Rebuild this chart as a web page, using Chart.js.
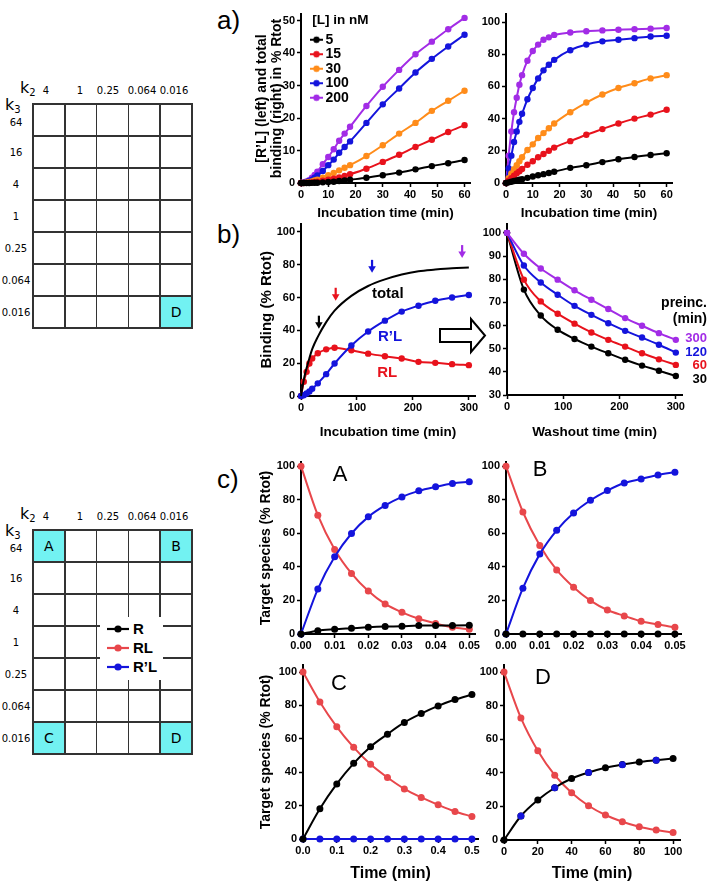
<!DOCTYPE html>
<html>
<head>
<meta charset="utf-8">
<script src="https://cdn.jsdelivr.net/npm/chart.js@4.4.1/dist/chart.umd.min.js"></script>
<style>
  body { margin: 0; background: #fff; }
  #page { position: relative; width: 709px; height: 883px; overflow: hidden; font-family: 'Liberation Sans', Arial, sans-serif; color: #000; }
  canvas { position: absolute; }
  .txt { position: absolute; white-space: nowrap; line-height: 1; }
  .gline { position: absolute; background: #333; }
  .gcell { position: absolute; background: #72f2f2; font-family: 'DejaVu Sans', sans-serif; font-size: 14px; display: flex; align-items: center; justify-content: center; }
  .glbl { position: absolute; font-family: 'DejaVu Sans', sans-serif; font-size: 10px; transform: translate(-50%, -50%); white-space: nowrap; }
  .kname { position: absolute; font-family: 'DejaVu Sans', sans-serif; font-size: 16px; transform: translateY(-50%); }
  .kname sub { font-size: 10px; vertical-align: -3px; }
</style>
</head>
<body>
<div id="page">
  <canvas id="aLeft"></canvas>
  <canvas id="aRight"></canvas>
  <canvas id="bLeft"></canvas>
  <canvas id="bRight"></canvas>
  <canvas id="cA"></canvas>
  <canvas id="cB"></canvas>
  <canvas id="cC"></canvas>
  <canvas id="cD"></canvas>
</div>
<script>
// ---- a) association kinetics at five ligand concentrations ----
const kinTimes = [0, 1, 2, 3, 4, 5, 6, 8, 10, 12, 14, 16, 18, 24, 30, 36, 42, 48, 54, 60];
const ligandConc = ['5', '15', '30', '100', '200'];
// [R'L] (left panel)
const rpl5   = [0, 0, 0, 0.02, 0.05, 0.08, 0.1, 0.2, 0.3, 0.4, 0.6, 0.8, 1.0, 1.6, 2.4, 3.2, 4.2, 5.2, 6.1, 7.1];
const rpl15  = [0, 0, 0.05, 0.1, 0.2, 0.3, 0.4, 0.7, 1.0, 1.3, 1.7, 2.2, 2.7, 4.4, 6.5, 8.7, 11.1, 13.3, 15.7, 17.8];
const rpl30  = [0, 0.05, 0.15, 0.3, 0.5, 0.75, 1.0, 1.6, 2.4, 3.1, 3.9, 4.7, 5.5, 8.3, 11.6, 15.2, 18.5, 22.2, 25.3, 28.4];
const rpl100 = [0, 0.1, 0.3, 0.6, 1.0, 1.6, 2.3, 3.7, 5.5, 7.2, 9.3, 11.1, 12.8, 18.5, 24.2, 29.1, 34, 38.2, 42, 45.6];
const rpl200 = [0, 0.2, 0.5, 0.9, 1.6, 2.5, 3.5, 5.8, 8, 10.4, 13, 15.2, 17.3, 23.7, 29.6, 34.8, 39.6, 43.5, 47.3, 50.8];
// total binding (right panel)
const tot5   = [0, 0.4, 0.8, 1.2, 1.6, 2, 2.4, 3.2, 4, 4.8, 5.5, 6.2, 7, 9.4, 11, 13, 14.8, 16.2, 17.4, 18.5];
const tot15  = [0, 1.5, 3, 4.5, 6, 7.3, 8.7, 11.3, 13.5, 16, 18, 20, 22, 26, 30, 33.5, 37, 40, 42.5, 45.5];
const tot30  = [0, 3, 6, 8.5, 11, 13.5, 16, 20.5, 24, 28, 31, 34, 37, 44, 50, 55, 59, 62, 65, 67];
const tot100 = [0, 9, 17, 25.5, 32, 38, 43, 52, 59, 65, 70, 73.5, 76.5, 82.5, 86, 88, 89, 90, 91, 91.5];
const tot200 = [0, 17, 32, 44, 53, 61, 67, 76, 82, 86, 89, 90.5, 92, 93.5, 94.3, 94.8, 95.2, 95.6, 95.9, 96.3];

// ---- b) incubation then washout ----
const incTimes = [0, 5, 10, 15, 20, 30, 45, 60, 90, 120, 150, 180, 210, 240, 270, 300];
const totalBound = [0, 10, 17, 23, 28.5, 36, 45, 52, 61, 67, 71, 74, 76, 77, 77.8, 78.2];
const rlBound    = [0, 8.7, 14.7, 19.8, 22.8, 26, 28.4, 29.4, 27.8, 25.8, 24.2, 22.8, 20.8, 20.2, 19.4, 18.8];
const rplBound   = [0, 0.5, 1.5, 2.7, 4.4, 7.7, 13.3, 19.8, 30.8, 39.3, 45.9, 51.4, 55, 58, 60, 61.5];
const arrowTimes = [32, 62, 127, 288];
const arrowLevels = [41, 58, 75, 84];
const washTimes = [0, 30, 60, 90, 120, 150, 180, 210, 240, 270, 300];
const preincTimes = ['300', '120', '60', '30'];
const wash300 = [100, 91, 84.6, 79.8, 75.2, 71.1, 67.1, 63.2, 59.9, 56.7, 53.8];
const wash120 = [100, 85.9, 78.6, 73.3, 68.5, 64.6, 61, 57.7, 54.8, 51.7, 48.3];
const wash60  = [100, 79.8, 70.4, 65.1, 60.8, 57, 53.8, 50.9, 48, 45.4, 43];
const wash30  = [100, 75.5, 64.3, 58.2, 54.2, 50.9, 48, 45.2, 42.7, 40.5, 38.2];

// ---- c) simulated species for four k2/k3 corners ----
const timesAB = [0, 0.005, 0.01, 0.015, 0.02, 0.025, 0.03, 0.035, 0.04, 0.045, 0.05];
const timesC  = [0, 0.05, 0.1, 0.15, 0.2, 0.25, 0.3, 0.35, 0.4, 0.45, 0.5];
const timesD  = [0, 10, 20, 30, 40, 50, 60, 70, 80, 90, 100];
const rA   = [0, 2, 2.8, 3.4, 4, 4.4, 4.6, 5, 5, 5.1, 5.2];
const rlA  = [100, 70.8, 50.4, 36.1, 25.6, 17.9, 12.9, 9.1, 6.3, 4, 2.8];
const rplA = [0, 26.8, 46, 59.9, 69.8, 76.6, 81.7, 85.3, 87.7, 89.7, 90.7];
const rB   = [0, 0, 0, 0, 0, 0, 0, 0, 0, 0, 0];
const rlB  = [100, 72.7, 52.8, 38.2, 27.9, 19.9, 14.3, 10.8, 7.6, 5.6, 4];
const rplB = [0, 27.3, 47.6, 61.8, 72.1, 79.7, 85.5, 90, 92.4, 94.8, 96.4];
const rC   = [0, 18.1, 33, 45.3, 55.3, 62.8, 69.8, 75.1, 79.7, 83.5, 86.5];
const rlC  = [100, 82.1, 67.2, 54.9, 44.7, 36.8, 30, 24.9, 20.5, 16.5, 13.5];
const rplC = [0, 0, 0, 0, 0, 0, 0, 0, 0, 0, 0];
const rD   = [0, 14.3, 23.8, 31.1, 36.6, 40.2, 43, 45, 46.5, 47.5, 48.5];
const rlD  = [100, 72.7, 53.1, 38.6, 28.1, 20.4, 14.9, 10.9, 7.9, 5.9, 4.4];
const rplD = [0, 14.3, 23.8, 31.1, 36.6, 40.2, 43, 44.8, 46.5, 47.5, 48.5];

// ---- rate constant grids ----
const k2Labels = ['4', '1', '0.25', '0.064', '0.016'];
const k3Labels = ['64', '16', '4', '1', '0.25', '0.064', '0.016'];
const speciesNames = ['R', 'RL', 'R\u2019L'];

const BLACK = '#000000', RED = '#e8121c', ORANGE = '#ff8c1a', BLUE = '#1414dc', PURPLE = '#a22ce6', SALMON = '#e8474b';
const concColors = [BLACK, RED, ORANGE, BLUE, PURPLE];
const preincColors = [PURPLE, BLUE, RED, BLACK];
const speciesColors = [BLACK, SALMON, BLUE];

Chart.defaults.font.family = "'Liberation Sans', Arial, sans-serif";
Chart.defaults.font.weight = 'bold';
Chart.defaults.color = '#000';
Chart.defaults.animation = false;
Chart.defaults.responsive = false;
Chart.defaults.devicePixelRatio = 1;
Chart.defaults.plugins.legend.display = false;
Chart.defaults.plugins.tooltip.enabled = false;

const page = document.getElementById('page');

function axis(o) {
  return {
    type: 'linear', position: o.pos, min: o.min, max: o.max,
    border: { display: true, color: '#000', width: 2 },
    grid: { display: true, drawOnChartArea: false, drawTicks: true, tickLength: 4, tickWidth: 1.5, tickColor: '#000' },
    ticks: {
      stepSize: o.step, includeBounds: false, autoSkip: false, maxRotation: 0,
      padding: o.pos === 'left' ? 2 : 1, color: '#000', font: { size: 11, weight: 'bold' },
      callback: o.fmt || (v => v)
    },
    title: o.title
      ? { display: true, text: o.title, color: '#000', padding: 0,
          font: { size: o.titleSize || 14, weight: 'bold', lineHeight: o.lh || 1.2 } }
      : { display: false },
    afterFit: s => { if (o.pos === 'left') s.width = o.size; else s.height = o.size; }
  };
}

function series(label, xs, ys, color, extra) {
  return Object.assign({
    label,
    data: xs.map((x, i) => ({ x, y: ys[i] })),
    borderColor: color, backgroundColor: color,
    pointBackgroundColor: color, pointBorderColor: color,
    borderWidth: 2, pointRadius: 3.2, pointBorderWidth: 0,
    cubicInterpolationMode: 'monotone', clip: false
  }, extra || {});
}

function makeChart(id, box, pad, datasets, xAxis, yAxis, pluginOpts, plugins) {
  const cv = document.getElementById(id);
  cv.width = box.w; cv.height = box.h;
  cv.style.left = box.x + 'px'; cv.style.top = box.y + 'px';
  return new Chart(cv, {
    type: 'line',
    data: { datasets },
    options: {
      layout: { padding: { top: pad.top, right: pad.right, bottom: 0, left: 0 } },
      scales: { x: xAxis, y: yAxis },
      plugins: pluginOpts || {}
    },
    plugins: plugins || []
  });
}

// corner letter (A-D) inside the c) panels
const cornerTag = {
  id: 'cornerTag',
  afterDraw(chart, args, opts) {
    if (!opts.text) return;
    const { ctx, chartArea } = chart;
    ctx.save();
    ctx.font = "22px 'Liberation Sans', Arial, sans-serif";
    ctx.fillStyle = '#000';
    ctx.textAlign = 'center';
    ctx.textBaseline = 'middle';
    ctx.fillText(opts.text, chartArea.left + opts.dx, chartArea.top + opts.dy);
    ctx.restore();
  }
};

// arrows at preincubation times and curve names in b) left
const bMarks = {
  id: 'bMarks',
  afterDatasetsDraw(chart, args, opts) {
    const { ctx, scales: { x, y } } = chart;
    ctx.save();
    arrowTimes.forEach((t, i) => {
      const px = x.getPixelForValue(t), py = y.getPixelForValue(arrowLevels[i]);
      const c = preincColors[3 - i];
      ctx.strokeStyle = c; ctx.fillStyle = c; ctx.lineWidth = 2.2;
      ctx.beginPath(); ctx.moveTo(px, py - 13); ctx.lineTo(px, py - 5); ctx.stroke();
      ctx.beginPath(); ctx.moveTo(px - 3.8, py - 6.5); ctx.lineTo(px + 3.8, py - 6.5); ctx.lineTo(px, py); ctx.closePath(); ctx.fill();
    });
    ctx.font = "bold 15px 'Liberation Sans', Arial, sans-serif";
    ctx.textAlign = 'center'; ctx.textBaseline = 'middle';
    opts.tags.forEach(tg => {
      ctx.fillStyle = tg.color;
      ctx.fillText(tg.text, x.getPixelForValue(tg.x), y.getPixelForValue(tg.y));
    });
    ctx.restore();
  }
};

function swatch(color, w, lineFrom, lineTo, dotX) {
  const c = document.createElement('canvas');
  c.width = w; c.height = 10;
  const g = c.getContext('2d');
  g.strokeStyle = color; g.fillStyle = color; g.lineWidth = 2;
  g.beginPath(); g.moveTo(lineFrom, 5); g.lineTo(lineTo, 5); g.stroke();
  g.beginPath(); g.arc(dotX, 5, 3.2, 0, Math.PI * 2); g.fill();
  return c;
}
const legendSwatches = concColors.map(c => swatch(c, 30, 15, 28, 21.5));

// a) left: [R'L]
makeChart('aLeft', { x: 255, y: 0, w: 230, h: 221 }, { top: 14, right: 15 },
  [rpl5, rpl15, rpl30, rpl100, rpl200].map((d, i) => series(ligandConc[i], kinTimes, d, concColors[i])),
  axis({ pos: 'bottom', min: 0, max: 62, step: 10, size: 38, title: 'Incubation time (min)', titleSize: 13.5 }),
  axis({ pos: 'left', min: 0, max: 52, step: 10, size: 46, title: ['[R\u2019L] (left) and total', 'binding (right) in % Rtot'], titleSize: 14, lh: 1.07 }),
  {
    legend: {
      display: true, position: 'chartArea', align: 'start',
      title: { display: true, text: '   [L] in nM', color: '#000', position: 'start',
               font: { size: 13.5, weight: 'bold' }, padding: { top: 14, bottom: 2 } },
      labels: {
        usePointStyle: true, pointStyleWidth: 17, padding: 0.5, color: '#000',
        font: { size: 14, weight: 'bold' },
        generateLabels: chart => chart.data.datasets.map((ds, i) => ({
          text: ds.label, pointStyle: legendSwatches[i], fillStyle: ds.borderColor,
          strokeStyle: ds.borderColor, lineWidth: 0, hidden: false, datasetIndex: i, fontColor: '#000'
        }))
      }
    }
  });

// a) right: total binding
makeChart('aRight', { x: 470, y: 0, w: 220, h: 221 }, { top: 14, right: 18 },
  [tot5, tot15, tot30, tot100, tot200].map((d, i) => series(ligandConc[i], kinTimes, d, concColors[i])),
  axis({ pos: 'bottom', min: 0, max: 62, step: 10, size: 38, title: 'Incubation time (min)', titleSize: 13.5 }),
  axis({ pos: 'left', min: 0, max: 105, step: 20, size: 36 }));

// b) left: incubation
makeChart('bLeft', { x: 258, y: 215, w: 232, h: 225 }, { top: 8, right: 15 },
  [
    series('total', incTimes, totalBound, BLACK, { pointRadius: 0 }),
    series('R\u2019L', incTimes, rplBound, BLUE),
    series('RL', incTimes, rlBound, RED)
  ],
  axis({ pos: 'bottom', min: 0, max: 311, step: 100, size: 44, title: 'Incubation time (min)', titleSize: 13.5 }),
  axis({ pos: 'left', min: 0, max: 105, step: 20, size: 43, title: 'Binding (% Rtot)', titleSize: 15 }),
  { bMarks: { tags: [
    { text: 'total', x: 155, y: 62.4, color: BLACK },
    { text: 'R\u2019L', x: 159, y: 35.8, color: BLUE },
    { text: 'RL', x: 154, y: 14, color: RED }
  ] } },
  [bMarks]);

// b) right: washout
makeChart('bRight', { x: 470, y: 215, w: 230, h: 225 }, { top: 8, right: 18 },
  [wash300, wash120, wash60, wash30].map((d, i) => series(preincTimes[i], washTimes, d, preincColors[i])),
  axis({ pos: 'bottom', min: 0, max: 311, step: 100, size: 45, title: 'Washout time (min)', titleSize: 13.5 }),
  axis({ pos: 'left', min: 30, max: 104, step: 10, size: 37 }));

// c) four corner simulations
const cSets = [
  { id: 'cA', tag: 'A', t: timesAB, d: [rA, rplA, rlA], box: { x: 258, y: 452, w: 232, h: 203 }, pad: { top: 10, right: 15 },
    xa: { max: 0.0517, step: 0.01, fmt: v => v.toFixed(2), size: 21 }, ya: { max: 102.5, size: 43 }, dx: 39, dy: 13 },
  { id: 'cB', tag: 'B', t: timesAB, d: [rB, rplB, rlB], box: { x: 470, y: 452, w: 230, h: 203 }, pad: { top: 10, right: 19 },
    xa: { max: 0.0518, step: 0.01, fmt: v => v.toFixed(2), size: 21 }, ya: { max: 102.5, size: 36 }, dx: 34, dy: 8 },
  { id: 'cC', tag: 'C', t: timesC, d: [rC, rplC, rlC], box: { x: 258, y: 655, w: 235, h: 228 }, pad: { top: 10, right: 15 },
    xa: { max: 0.518, step: 0.1, fmt: v => v.toFixed(1), size: 44, title: 'Time (min)' }, ya: { max: 104.2, size: 45 }, dx: 36, dy: 19 },
  { id: 'cD', tag: 'D', t: timesD, d: [rD, rplD, rlD], box: { x: 470, y: 655, w: 225, h: 228 }, pad: { top: 10, right: 15 },
    xa: { max: 104.1, step: 20, size: 43, title: 'Time (min)' }, ya: { max: 104.2, size: 34 }, dx: 39, dy: 13 }
];
cSets.forEach((s, k) => {
  const isD = s.tag === 'D';
  const rSet = series(speciesNames[0], s.t, s.d[0], BLACK, { pointRadius: 3.5 });
  const rlSet = series(speciesNames[1], s.t, s.d[2], SALMON, { pointRadius: 3.5 });
  // in D the R'L points sit on the R curve and show between the R points
  const rplSet = series(speciesNames[2], s.t, s.d[1], BLUE,
    isD ? { showLine: false, pointRadius: c => (c.dataIndex % 2 ? 3.5 : 0) } : { pointRadius: 3.5 });
  const ds = isD ? [rplSet, rSet, rlSet] : [rSet, rplSet, rlSet];
  makeChart(s.id, s.box, s.pad, ds,
    axis({ pos: 'bottom', min: 0, max: s.xa.max, step: s.xa.step, size: s.xa.size, fmt: s.xa.fmt, title: s.xa.title, titleSize: 16 }),
    axis({ pos: 'left', min: 0, max: s.ya.max, step: 20, size: s.ya.size, title: k % 2 ? null : 'Target species (% Rtot)', titleSize: 14 }),
    { cornerTag: { text: s.tag, dx: s.dx, dy: s.dy } },
    [cornerTag]);
});

// ---- HTML decorations: panel letters, washout legend, hollow arrow, grids ----
function addText(html, x, y, css) {
  const d = document.createElement('div');
  d.className = 'txt';
  d.innerHTML = html;
  d.style.left = x + 'px'; d.style.top = y + 'px';
  Object.assign(d.style, css || {});
  page.appendChild(d);
  return d;
}
addText('a)', 217, 7, { fontSize: '26px' });
addText('b)', 217, 221, { fontSize: '26px' });
addText('c)', 217, 466, { fontSize: '26px' });

// washout legend ("preinc. (min)")
addText('preinc.', 0, 295, { fontSize: '14px', fontWeight: 'bold', right: '2px', left: 'auto' });
addText('(min)', 0, 311, { fontSize: '14px', fontWeight: 'bold', right: '2px', left: 'auto' });
preincTimes.forEach((t, i) => {
  addText(t, 0, 331 + i * 13.5, { fontSize: '13px', fontWeight: 'bold', right: '2px', left: 'auto', color: preincColors[i] });
});

// hollow arrow between b) panels
const arrowSvg = document.createElementNS('http://www.w3.org/2000/svg', 'svg');
arrowSvg.setAttribute('width', '60'); arrowSvg.setAttribute('height', '50');
arrowSvg.style.position = 'absolute'; arrowSvg.style.left = '435px'; arrowSvg.style.top = '312px';
arrowSvg.innerHTML = '<polygon points="5,17 36,17 36,7 50,23.5 36,40 36,30 5,30" fill="#fff" stroke="#000" stroke-width="2"/>';
page.appendChild(arrowSvg);

// k2 / k3 grids
const cellW = 31.8, cellH = 32, gridLeft = 33;
const k2LabelX = [46, 80, 108, 142, 174];
function drawGrid(top, marks, legend) {
  const d = document.createElement('div');
  d.className = 'kname'; d.innerHTML = 'k<sub>2</sub>';
  d.style.left = '20px'; d.style.top = (top - 16) + 'px';
  page.appendChild(d);
  const d3 = document.createElement('div');
  d3.className = 'kname'; d3.innerHTML = 'k<sub>3</sub>';
  d3.style.left = '5px'; d3.style.top = (top + 1) + 'px';
  page.appendChild(d3);
  k2Labels.forEach((lab, i) => {
    const e = document.createElement('div');
    e.className = 'glbl'; e.textContent = lab;
    e.style.left = k2LabelX[i] + 'px'; e.style.top = (top - 14) + 'px';
    page.appendChild(e);
  });
  k3Labels.forEach((lab, j) => {
    const e = document.createElement('div');
    e.className = 'glbl'; e.textContent = lab;
    e.style.left = '16px'; e.style.top = (top + cellH * j + cellH / 2 + (j === 0 ? 2 : 0)) + 'px';
    page.appendChild(e);
  });
  marks.forEach(m => {
    const c = document.createElement('div');
    c.className = 'gcell'; c.textContent = m.tag;
    c.style.left = (gridLeft + m.col * cellW) + 'px'; c.style.top = (top + m.row * cellH) + 'px';
    c.style.width = cellW + 'px'; c.style.height = cellH + 'px';
    page.appendChild(c);
  });
  for (let i = 0; i <= k2Labels.length; i++) {
    const v = document.createElement('div');
    v.className = 'gline';
    v.style.left = (gridLeft + i * cellW - 0.75) + 'px'; v.style.top = (top - 0.75) + 'px';
    v.style.width = '1.5px'; v.style.height = (cellH * k3Labels.length + 1.5) + 'px';
    page.appendChild(v);
  }
  for (let j = 0; j <= k3Labels.length; j++) {
    const h = document.createElement('div');
    h.className = 'gline';
    h.style.left = (gridLeft - 0.75) + 'px'; h.style.top = (top + j * cellH - 0.75) + 'px';
    h.style.width = (cellW * k2Labels.length + 1.5) + 'px'; h.style.height = '1.5px';
    page.appendChild(h);
  }
  if (legend) {
    const box = document.createElement('div');
    box.style.cssText = 'position:absolute;left:100px;top:' + (top + 87) + 'px;width:63px;height:63px;background:#fff;';
    page.appendChild(box);
    speciesNames.forEach((nm, i) => {
      const y = top + 99 + i * 19;
      const sw = document.createElementNS('http://www.w3.org/2000/svg', 'svg');
      sw.setAttribute('width', '24'); sw.setAttribute('height', '10');
      sw.style.position = 'absolute'; sw.style.left = '106px'; sw.style.top = (y - 5) + 'px';
      sw.innerHTML = '<line x1="1" y1="5" x2="23" y2="5" stroke="' + speciesColors[i] + '" stroke-width="2.2"/>' +
                     '<circle cx="12" cy="5" r="3.6" fill="' + speciesColors[i] + '"/>';
      page.appendChild(sw);
      addText(nm, 133, y - 8, { fontSize: '15px', fontWeight: 'bold' });
    });
  }
}
drawGrid(104, [{ row: 6, col: 4, tag: 'D' }], false);
drawGrid(530, [
  { row: 0, col: 0, tag: 'A' }, { row: 0, col: 4, tag: 'B' },
  { row: 6, col: 0, tag: 'C' }, { row: 6, col: 4, tag: 'D' }
], true);
</script>
</body>
</html>
